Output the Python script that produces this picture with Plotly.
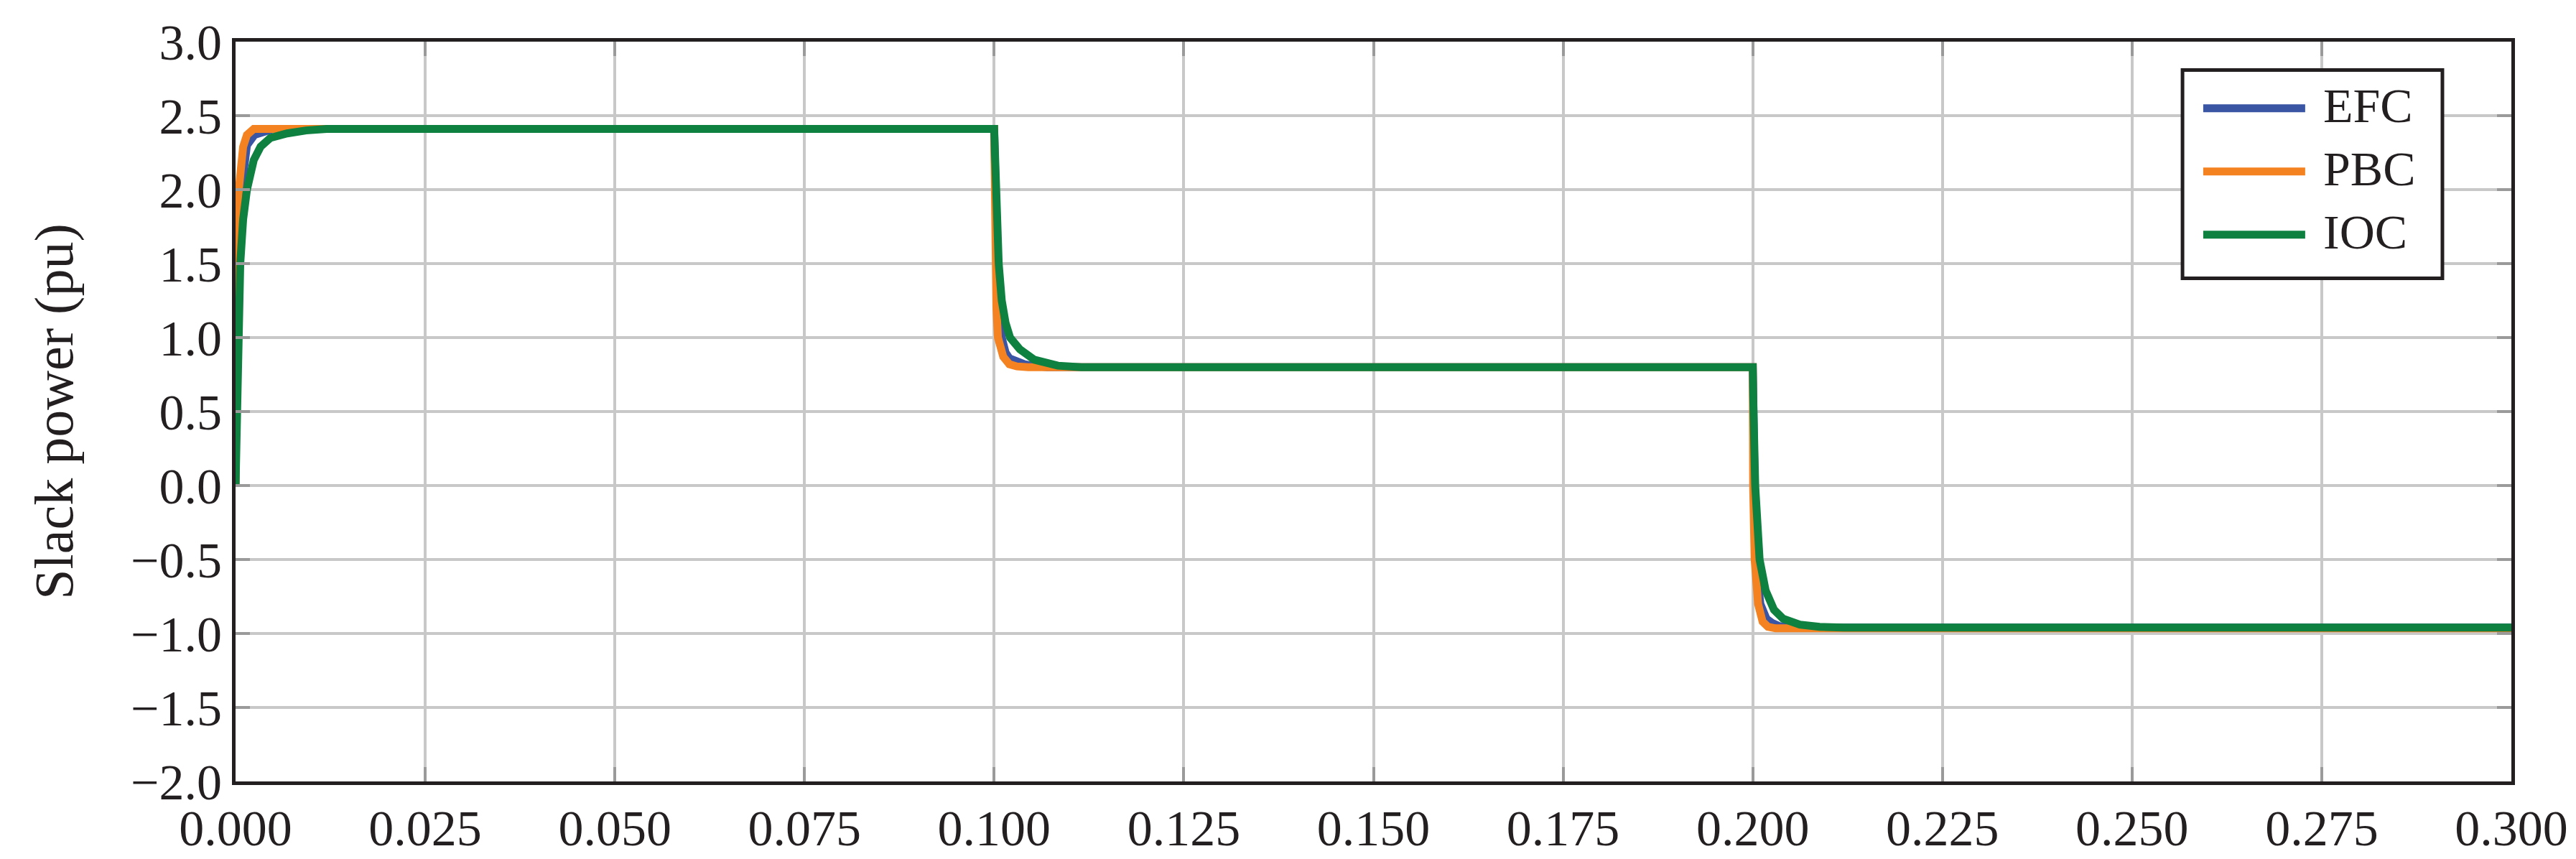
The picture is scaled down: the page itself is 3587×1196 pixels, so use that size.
import plotly.graph_objects as go

# time (s) / slack power (pu)
t_efc = [0.0, 0.00005, 0.00015, 0.0004, 0.0007, 0.001, 0.0015, 0.0025, 0.004, 0.005,
         0.1, 0.1002, 0.1005, 0.101, 0.1015, 0.102, 0.103, 0.104, 0.105, 0.107,
         0.2, 0.2001, 0.2004, 0.201, 0.2018, 0.2026, 0.2035, 0.205, 0.3]
p_efc = [0.0, 0.9, 1.5, 1.85, 2.0, 2.18, 2.3, 2.37, 2.40, 2.41,
         2.41, 1.85, 1.35, 1.0, 0.9, 0.86, 0.835, 0.82, 0.81, 0.80,
         0.80, 0.0, -0.5, -0.8, -0.9, -0.93, -0.95, -0.96, -0.96]

t_pbc = [0.0, 0.00002, 0.00007, 0.0002, 0.00043, 0.0007, 0.001, 0.0015, 0.0024,
         0.1, 0.1001, 0.1003, 0.1005, 0.1008, 0.1012, 0.102, 0.103, 0.1045,
         0.2, 0.20005, 0.20025, 0.2007, 0.2013, 0.202, 0.203, 0.3]
p_pbc = [0.0, 0.8, 1.5, 1.8, 2.0, 2.18, 2.29, 2.37, 2.41,
         2.41, 1.5, 1.2, 1.0, 0.92, 0.87, 0.82, 0.805, 0.80,
         0.80, 0.0, -0.5, -0.8, -0.92, -0.955, -0.965, -0.965]

t_ioc = [0.0, 0.00018, 0.00033, 0.00062, 0.001, 0.0015, 0.0024, 0.0033, 0.0046, 0.0068, 0.0093, 0.012,
         0.1, 0.1002, 0.1006, 0.101, 0.1015, 0.1021, 0.1034, 0.1053, 0.1084, 0.1115,
         0.2, 0.2001, 0.20032, 0.2009, 0.2017, 0.2028, 0.204, 0.2062, 0.2088, 0.212, 0.3]
p_ioc = [0.0, 0.5, 1.0, 1.5, 1.8, 2.0, 2.2, 2.29, 2.35, 2.38, 2.40, 2.41,
         2.41, 2.0, 1.5, 1.25, 1.1, 1.0, 0.92, 0.85, 0.81, 0.80,
         0.80, 0.5, 0.0, -0.5, -0.71, -0.84, -0.9, -0.94, -0.955, -0.96, -0.96]

names = ["EFC", "PBC", "IOC"]
colors = ["#3A55A4", "#F58220", "#0E8040"]
series = [(t_efc, p_efc), (t_pbc, p_pbc), (t_ioc, p_ioc)]

x_ticks = [i * 0.025 for i in range(13)]
y_ticks = [-2.0 + i * 0.5 for i in range(11)]

FONT = "Liberation Serif"
INK = "#231F20"

fig = go.Figure()
for name, color, (t, p) in zip(names, colors, series):
    fig.add_trace(go.Scatter(x=t, y=p, name=name, mode="lines",
                             line=dict(color=color, width=11),
                             showlegend=False))

axis_style = dict(showline=True, linecolor=INK, linewidth=5, mirror="ticks",
                  ticks="inside", ticklen=20, tickwidth=4, tickcolor="#9A9A9A",
                  showgrid=True, gridcolor="#C8C8C8", gridwidth=4, zeroline=False,
                  tickfont=dict(family=FONT, size=70, color=INK))

fig.update_xaxes(range=[0, 0.3], tickvals=x_ticks, tickformat=".3f", **axis_style)
fig.update_yaxes(range=[-2, 3], tickvals=y_ticks, tickformat=".1f",
                 title=dict(text="Slack power (pu)", font=dict(family=FONT, size=76, color=INK),
                            standoff=57),
                 **axis_style)

# legend drawn by hand so the line samples are as long as in the original
fig.add_shape(type="rect", xref="paper", yref="paper", x0=0.8555, x1=0.9697, y0=0.680, y1=0.9617,
              line=dict(color=INK, width=5), fillcolor="white", layer="above")
for i, (name, color) in enumerate(zip(names, colors)):
    yy = 0.910 - i * 0.0855
    fig.add_shape(type="line", xref="paper", yref="paper", x0=0.8646, x1=0.9094, y0=yy, y1=yy,
                  line=dict(color=color, width=11), layer="above")
    fig.add_annotation(xref="paper", yref="paper", x=0.9167, y=yy + 0.004, text=name,
                       showarrow=False, xanchor="left", yanchor="middle",
                       font=dict(family=FONT, size=68, color=INK))

fig.update_layout(width=3587, height=1196, plot_bgcolor="white", paper_bgcolor="white",
                  margin=dict(l=320, r=98, t=48, b=104), showlegend=False)

fig.write_html("out.html")
